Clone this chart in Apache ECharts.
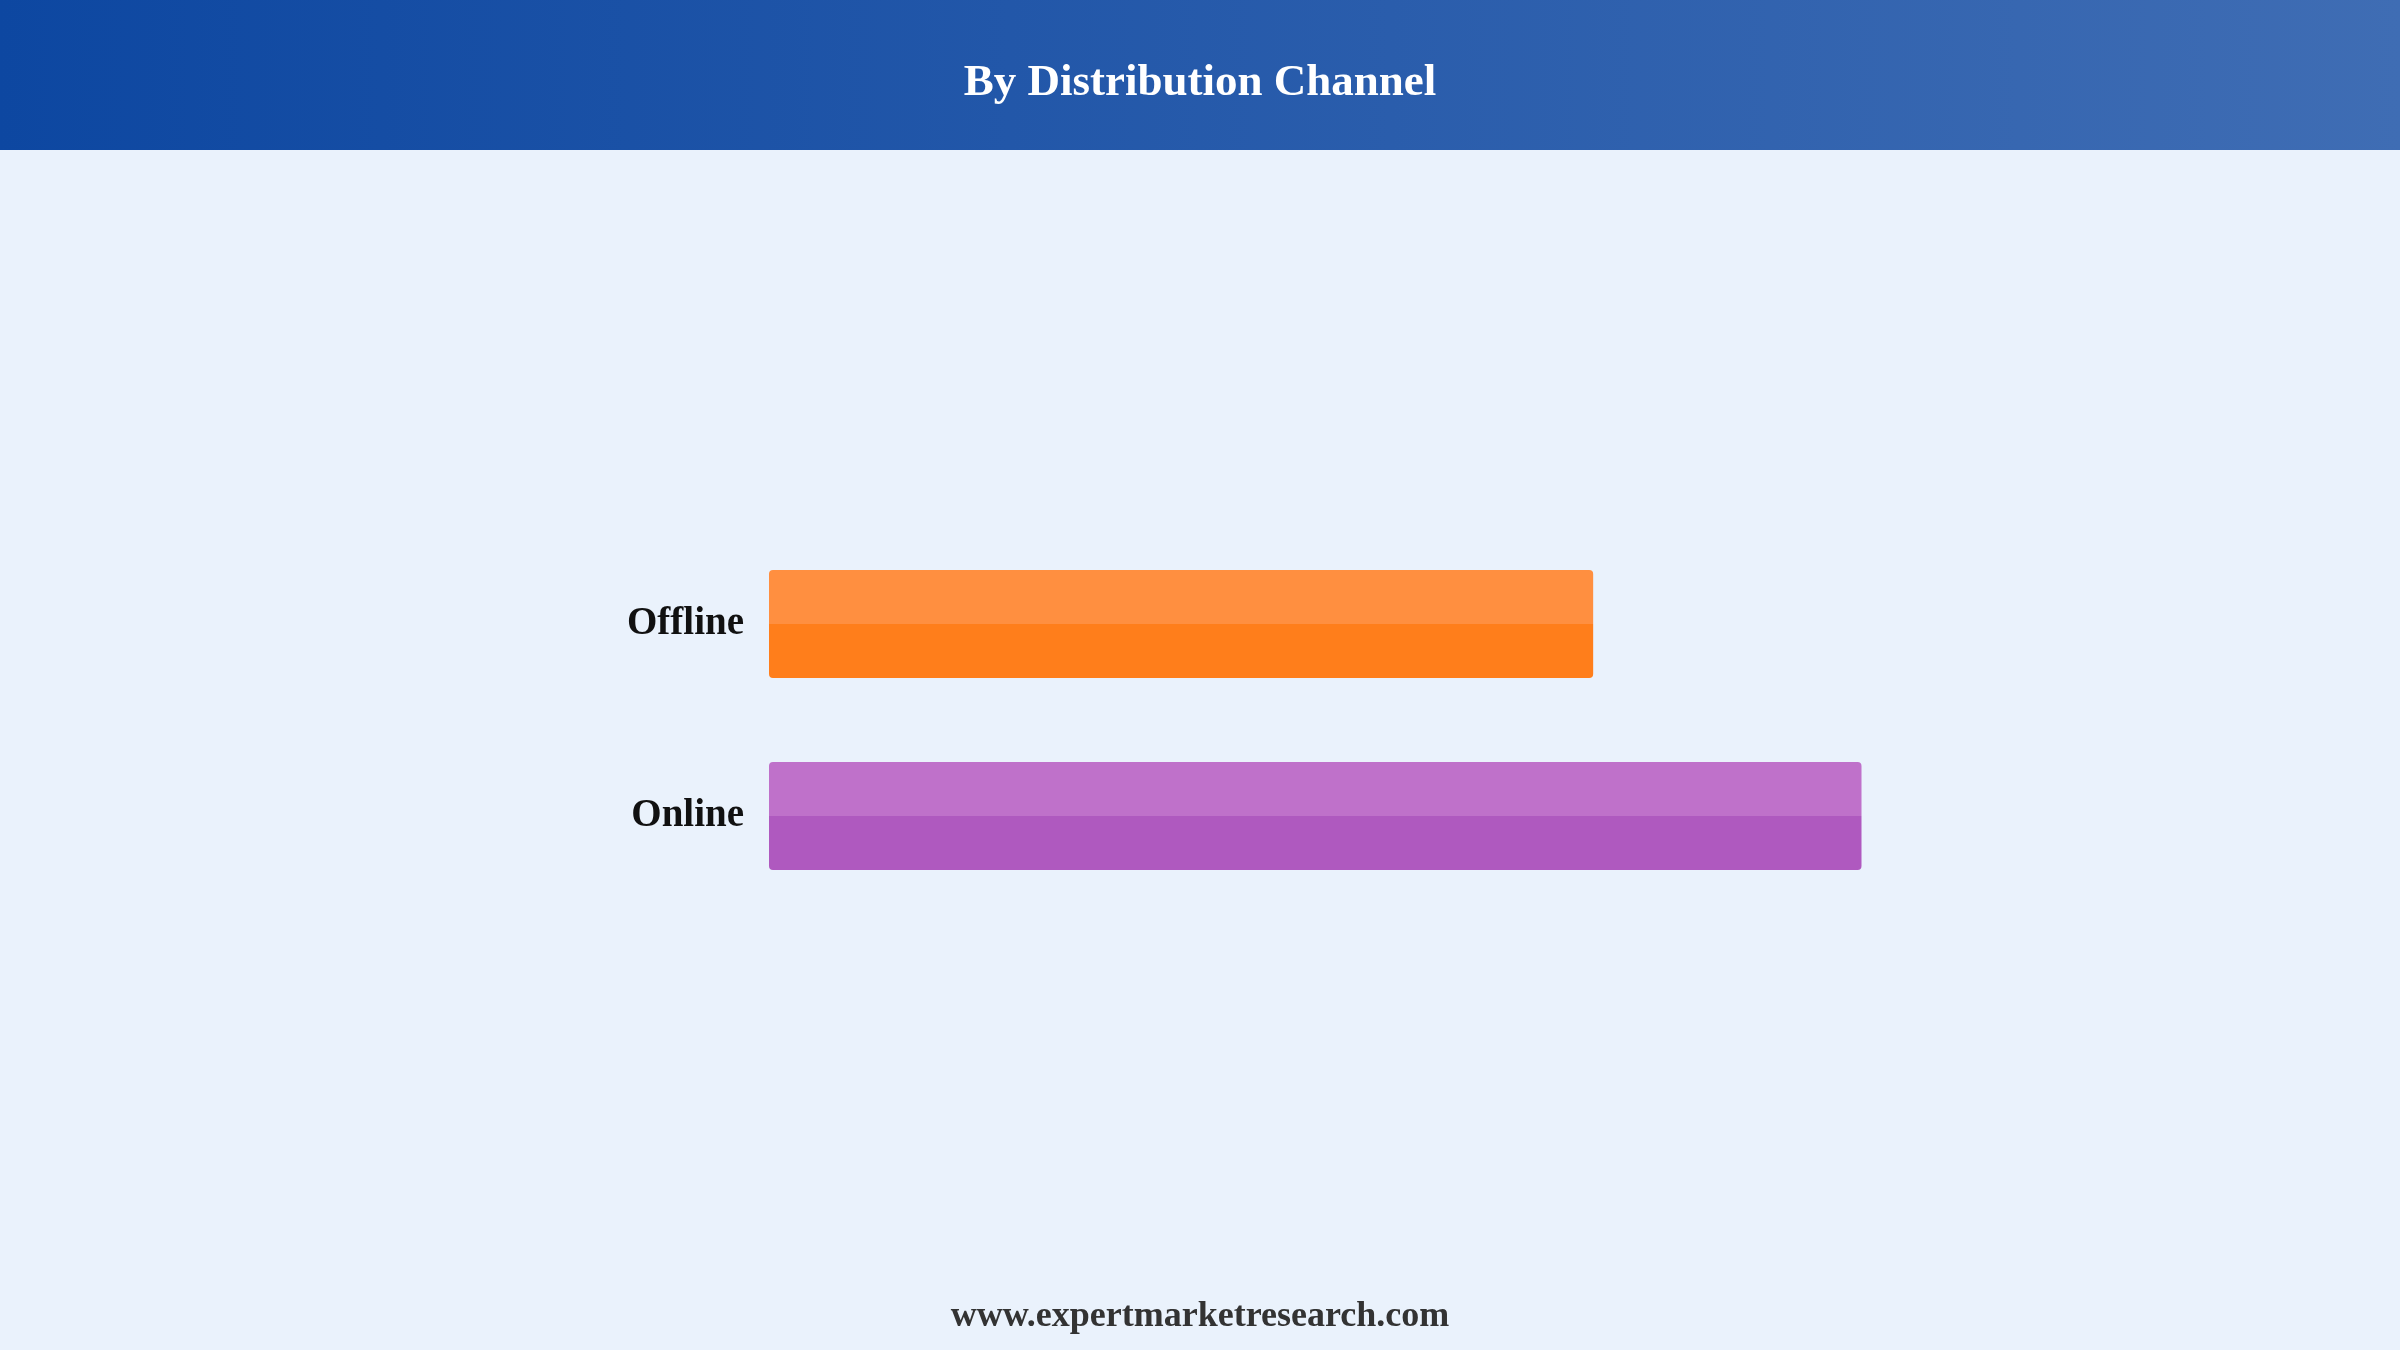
<!DOCTYPE html>
<html>
<head>
<meta charset="utf-8">
<title>By Distribution Channel</title>
<script src="https://cdn.jsdelivr.net/npm/echarts@6/dist/echarts.min.js"></script>
<style>
  html, body { margin: 0; padding: 0; background: #eaf2fc; }
  #main { width: 2400px; height: 1350px; }
</style>
</head>
<body>
<div id="main"></div>
<script>
var channels = ['Offline', 'Online'];
var shares = [43, 57];
var topColors = ['#ff8f40', '#bf71ca'];
var baseColors = ['#ff7e1b', '#af59bf'];

var chartDom = document.getElementById('main');
var myChart = echarts.init(chartDom);
var option;

// two-tone bar: lighter top half, solid bottom half
function barFill(i) {
  return new echarts.graphic.LinearGradient(0, 0, 0, 1, [
    { offset: 0, color: topColors[i] },
    { offset: 0.5, color: topColors[i] },
    { offset: 0.5, color: baseColors[i] },
    { offset: 1, color: baseColors[i] }
  ]);
}

option = {
  backgroundColor: '#eaf2fc',
  title: [
    {
      text: 'By Distribution Channel',
      left: 'center',
      top: 56,
      textStyle: {
        color: '#ffffff',
        fontFamily: 'Liberation Serif',
        fontWeight: 'bold',
        fontSize: 45
      }
    },
    {
      text: 'www.expertmarketresearch.com',
      left: 'center',
      top: 1294,
      textStyle: {
        color: '#333333',
        fontFamily: 'Liberation Serif',
        fontWeight: 'bold',
        fontSize: 36
      }
    }
  ],
  graphic: [
    {
      type: 'rect',
      z: -1,
      shape: { x: 0, y: 0, width: 2400, height: 150 },
      style: {
        fill: new echarts.graphic.LinearGradient(0, 0, 1, 0, [
          { offset: 0, color: '#0d47a1' },
          { offset: 1, color: '#3f6db4' }
        ])
      }
    }
  ],
  grid: {
    left: 769,
    right: 481,
    top: 528,
    bottom: 438,
    containLabel: false
  },
  xAxis: {
    type: 'value',
    min: 0,
    max: 60,
    show: false
  },
  yAxis: {
    type: 'category',
    inverse: true,
    data: channels,
    axisLine: { show: false },
    axisTick: { show: false },
    splitLine: { show: false },
    axisLabel: {
      margin: 25,
      padding: [10, 0, 0, 0],
      color: '#111111',
      fontFamily: 'Liberation Serif',
      fontWeight: 'bold',
      fontSize: 39
    }
  },
  series: [
    {
      type: 'bar',
      barWidth: 108,
      silent: true,
      data: shares.map(function (v, i) {
        return {
          value: v,
          itemStyle: { color: barFill(i), borderRadius: 4 }
        };
      })
    }
  ]
};

option && myChart.setOption(option);
</script>
</body>
</html>
